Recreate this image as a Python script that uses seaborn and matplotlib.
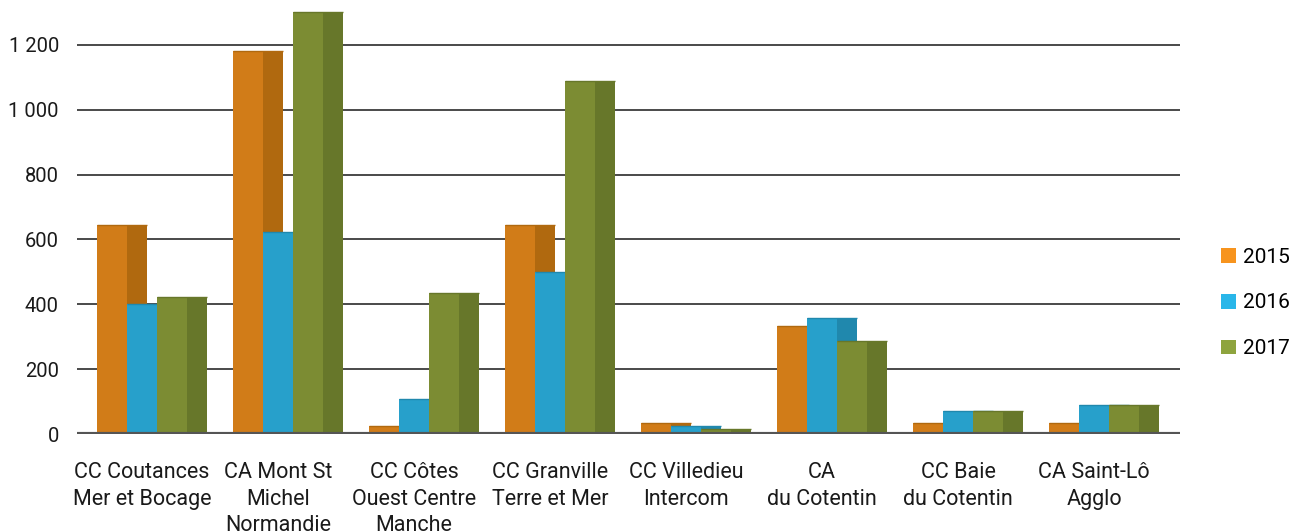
import matplotlib
matplotlib.use("Agg")
import matplotlib.pyplot as plt
from matplotlib.patches import Rectangle, Patch
from matplotlib.ticker import FuncFormatter
import seaborn as sns
import pandas as pd

# Intercommunalités and yearly values
categories = [
    "CC Coutances\nMer et Bocage",
    "CA Mont St\nMichel\nNormandie",
    "CC Côtes\nOuest Centre\nManche",
    "CC Granville\nTerre et Mer",
    "CC Villedieu\nIntercom",
    "CA\ndu Cotentin",
    "CC Baie\ndu Cotentin",
    "CA Saint-Lô\nAgglo",
]
years = ["2015", "2016", "2017"]
values_2015 = [645, 1181, 25, 644, 34, 334, 33, 33]
values_2016 = [402, 623, 108, 501, 25, 357, 70, 88]
values_2017 = [423, 1301, 435, 1088, 14, 286, 70, 88]
y_ticks = [0, 200, 400, 600, 800, 1000, 1200]

# front face, side face, legend swatch
palette = {
    "2015": ("#D17C18", "#B0690F", "#F7941E"),
    "2016": ("#27A0CB", "#2088AD", "#29B6E9"),
    "2017": ("#7C8C33", "#67772A", "#8EA43E"),
}

df = pd.DataFrame({
    "cat": categories * 3,
    "year": [years[0]] * 8 + [years[1]] * 8 + [years[2]] * 8,
    "value": values_2015 + values_2016 + values_2017,
})

plt.rcParams["font.family"] = ["Roboto", "DejaVu Sans"]
fig = plt.figure(figsize=(12.93, 5.32), dpi=100)
ax = fig.add_axes([77 / 1293, (532 - 434) / 532, (1180 - 77) / 1293, 434 / 532])

sns.barplot(data=df, x="cat", y="value", hue="year", hue_order=years,
            palette={y: palette[y][0] for y in years}, width=0.66,
            saturation=1, ax=ax, legend=False, errorbar=None, linewidth=0)

# give every bar a darker side face to the right; later years sit in front
for k, (container, year) in enumerate(zip(ax.containers, years)):
    front, side, _ = palette[year]
    for bar in container:
        x, w, h = bar.get_x(), bar.get_width(), bar.get_height()
        bar.set_zorder(3 + 2 * k)
        ax.add_patch(Rectangle((x + w, 0), w * 0.66, h, facecolor=side,
                               edgecolor="none", zorder=4 + 2 * k))
        ax.plot([x, x + w * 1.66], [h, h], color=side, lw=1.0,
                zorder=4.5 + 2 * k, solid_capstyle="butt")

ax.set_xlim(-0.478, 7.632)
ax.set_ylim(0, 434 / 0.3242)
ax.set_yticks(y_ticks)
ax.yaxis.set_major_formatter(FuncFormatter(lambda v, p: f"{int(v):,}".replace(",", " ")))
ax.grid(axis="y", color="#3c3c3c", lw=1.3, zorder=1)
ax.set_axisbelow(True)
ax.axhline(0, color="#555555", lw=3, zorder=20)
for s in ax.spines.values():
    s.set_visible(False)
ax.tick_params(axis="both", length=0, colors="#1a1a1a")
ax.tick_params(axis="y", pad=13, labelsize=14.5)
ax.tick_params(axis="x", pad=20, labelsize=15.5)
for lbl in ax.get_xticklabels():
    lbl.set_linespacing(1.36)
    lbl.set_verticalalignment("top")
ax.set_xlabel("")
ax.set_ylabel("")

handles = [Patch(facecolor=palette[y][2], edgecolor="none") for y in years]
fig.legend(handles, years, loc="center left", bbox_to_anchor=(1221 / 1293, (532 - 303) / 532),
           frameon=False, fontsize=15, handlelength=0.7, handleheight=0.7,
           handletextpad=0.38, labelspacing=1.28, borderpad=0, borderaxespad=0)

fig.savefig("out.png", dpi=100)
